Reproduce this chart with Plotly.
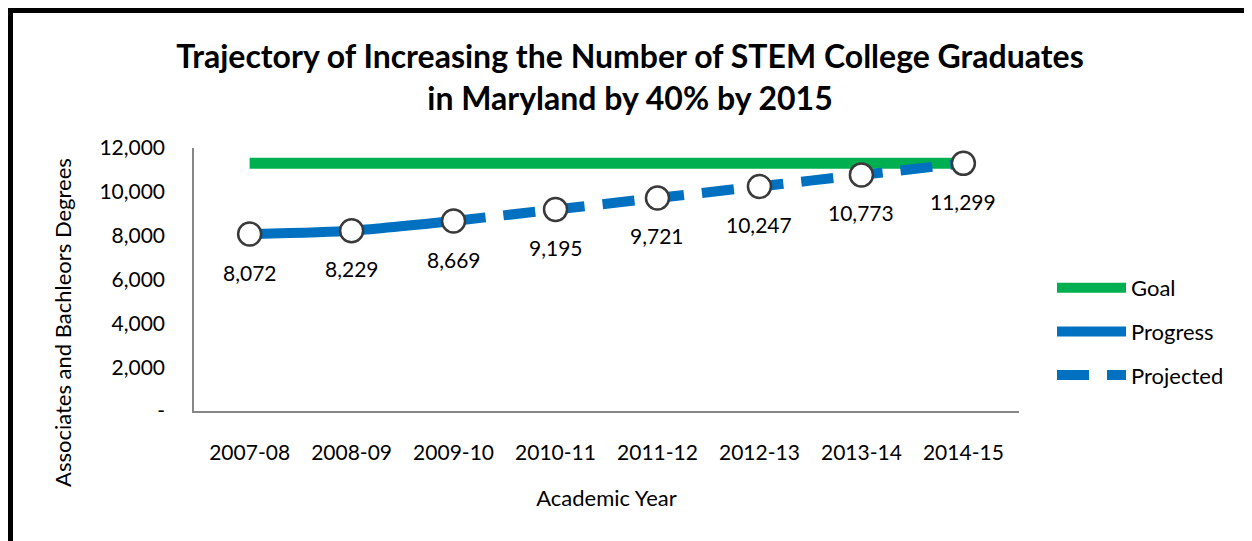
import plotly.graph_objects as go

years = ["2007-08", "2008-09", "2009-10", "2010-11", "2011-12", "2012-13", "2013-14", "2014-15"]
degrees = [8072, 8229, 8669, 9195, 9721, 10247, 10773, 11299]
n_actual = 3  # 2007-08 .. 2009-10 are actual progress
goal = [11300] * len(years)
y_ticks = [0, 2000, 4000, 6000, 8000, 10000, 12000]
y_tick_text = ["-", "2,000", "4,000", "6,000", "8,000", "10,000", "12,000"]

progress = degrees[:n_actual] + [None] * (len(years) - n_actual)
projected = [None] * (n_actual - 1) + degrees[n_actual - 1:]

FONT = "Lato"
GREEN = "#00B050"
BLUE = "#0070C0"

W, H = 1244, 533
L, T, PW, PH = 186, 140, 825, 263

fig = go.Figure()
fig.add_trace(go.Scatter(x=years, y=goal, name="Goal", mode="lines",
                         line=dict(color=GREEN, width=11), legendgroup="g"))
fig.add_trace(go.Scatter(x=years, y=progress, name="Progress", mode="lines",
                         line=dict(color=BLUE, width=10, shape="spline", smoothing=0.6),
                         legendgroup="p"))
fig.add_trace(go.Scatter(x=years, y=projected, name="Projected", mode="lines",
                         line=dict(color=BLUE, width=10, dash="32px,18px", shape="spline", smoothing=0.6),
                         legendgroup="j"))
fig.add_trace(go.Scatter(x=years, y=degrees, mode="markers", showlegend=False,
                         marker=dict(size=23, color="white", line=dict(color="#3a3a3a", width=2.5))))

for yr, v in zip(years, degrees):
    fig.add_annotation(x=yr, y=v, text=f"{v:,}", showarrow=False, yshift=-38,
                       font=dict(family=FONT, size=21, color="black"))

# y axis title, placed as in the reference (below the plot centre)
fig.add_annotation(xref="paper", yref="paper", x=(54 - L) / PW, y=(T + PH - 315) / PH,
                   xanchor="center", yanchor="middle", textangle=-90, showarrow=False,
                   text="Associates and Bachleors Degrees",
                   font=dict(family=FONT, size=22, color="black"))

# chart border (thick black frame, cropped at right/bottom)
fig.add_shape(type="rect", xref="paper", yref="paper",
              x0=(2 - L) / PW, x1=(1320 - L) / PW,
              y0=(T + PH - 620) / PH, y1=(T + PH - 2) / PH,
              line=dict(color="black", width=6), fillcolor="rgba(0,0,0,0)", layer="below")

fig.update_layout(
    width=W, height=H,
    margin=dict(l=L, r=W - L - PW, t=T, b=H - T - PH),
    paper_bgcolor="white", plot_bgcolor="white",
    font=dict(family=FONT, size=21, color="black"),
    title=dict(text="<b>Trajectory of Increasing the Number of STEM College Graduates<br>in Maryland by 40% by 2015</b>",
               x=622 / W, xanchor="center", y=1 - 60 / H, yanchor="middle",
               font=dict(family=FONT, size=32, color="black")),
    showlegend=True,
    legend=dict(x=(1044 - L) / PW, y=(T + PH - 259) / PH, xanchor="left", yanchor="top",
                font=dict(family=FONT, size=22, color="black"), itemwidth=69,
                tracegroupgap=12, bgcolor="rgba(0,0,0,0)"),
    xaxis=dict(type="category", showgrid=False, showline=True, linecolor="#868686", linewidth=1.5,
               ticks="", ticklabelstandoff=22, tickfont=dict(size=21),
               title=dict(text="Academic Year", standoff=28, font=dict(size=22)),
               zeroline=False),
    yaxis=dict(range=[0, 12000], tickvals=y_ticks, ticktext=y_tick_text,
               showgrid=False, showline=True, linecolor="#868686", linewidth=1.5,
               ticks="", ticklabelstandoff=23, tickfont=dict(size=21),
               zeroline=False),
)

fig.write_html("out.html")
